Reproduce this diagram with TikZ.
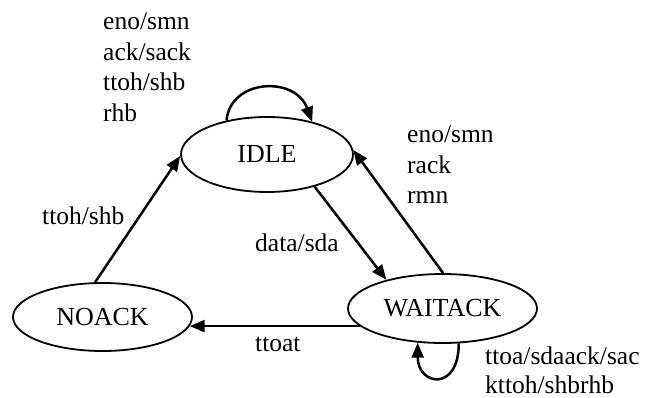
\documentclass[tikz,border=0pt]{standalone}
\usepackage{fontspec}
\setmainfont{Liberation Serif}
\usetikzlibrary{shapes.geometric,arrows.meta}
\newcommand{\stacklines}[1]{\begin{tabular}[t]{@{}l@{}}#1\end{tabular}}
\begin{document}
\begin{tikzpicture}[x=1pt,y=-1pt,
  state/.style={ellipse,draw,line width=1.8pt,inner sep=0pt,
    font=\fontsize{26}{30}\selectfont},
  trans/.style={line width=2.5pt,-{Triangle[length=15pt,width=12pt]}},
  lbl/.style={anchor=base west,inner sep=0pt,
    font=\fontsize{25.5}{30.5}\selectfont}]
\useasboundingbox (0,0) rectangle (646,398);

% states
\node[state,minimum width=172pt,minimum height=75pt] (idle) at (267,154.5) {IDLE};
\node[state,minimum width=189pt,minimum height=69pt] (waitack) at (442.5,308.5) {WAITACK};
\node[state,minimum width=179pt,minimum height=68pt] (noack) at (102.5,317) {NOACK};

% transitions
\draw[trans] (idle.140) .. controls +(4,-42) and +(-17,-46) .. (idle.36);
\draw[trans] (noack.102) -- (idle.181);
\draw[trans] (idle.-34) -- (waitack.153);
\draw[trans] (waitack.89) -- (idle.3);
\draw[trans] (waitack.192) -- (waitack.192 -| noack.-6);
\draw[trans] (waitack.-65) .. controls +(0,49) and +(0,43) .. (waitack.234);

% labels
\node[lbl] (lidle) at (103,30) {\stacklines{eno/smn\\ack/sack\\ttoh/shb\\rhb}};
\node[lbl] (lnoack) at (42,225) {ttoh/shb};
\node[lbl] (ldata) at (255,252) {data/sda};
\node[lbl] (lttoat) at (255,352) {ttoat};
\node[lbl] (lback) at (407,143) {\stacklines{eno/smn\\rack\\rmn}};
\node[lbl,font=\fontsize{25.5}{28.5}\selectfont] (lwait) at (485,365) {\stacklines{ttoa/sdaack/sac\\kttoh/shbrhb}};
\end{tikzpicture}
\end{document}
